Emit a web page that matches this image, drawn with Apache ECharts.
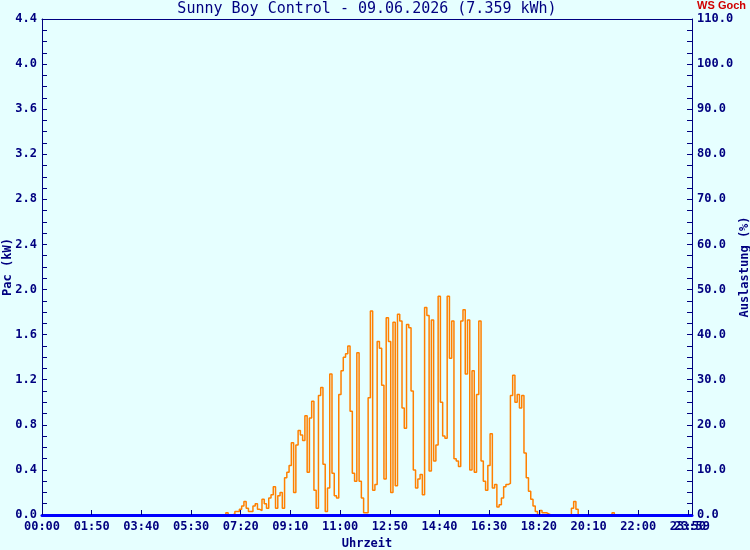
<!DOCTYPE html>
<html>
<head>
<meta charset="utf-8">
<title>Sunny Boy Control</title>
<script src="https://cdn.jsdelivr.net/npm/echarts@6/dist/echarts.min.js"></script>
<style>
  html, body { margin: 0; padding: 0; background: #E6FFFF; }
  #chart { width: 750px; height: 550px; }
</style>
</head>
<body>
<div id="chart"></div>
<script>
// Pac readings, one every 5 minutes starting at pacStart (minutes after midnight)
const pacStart = 402;
const pacStep = 5;
const pacValues = [
    0.00, 0.02, 0.00, 0.00, 0.01, 0.03, 0.03, 0.05, 0.08, 0.12,
    0.06, 0.03, 0.03, 0.08, 0.10, 0.05, 0.04, 0.14, 0.10, 0.06,
    0.15, 0.18, 0.25, 0.06, 0.17, 0.20, 0.06, 0.33, 0.38, 0.44,
    0.64, 0.20, 0.62, 0.75, 0.71, 0.66, 0.88, 0.38, 0.86, 1.01,
    0.22, 0.06, 1.06, 1.13, 0.45, 0.03, 0.24, 1.25, 0.37, 0.17,
    0.15, 1.07, 1.28, 1.40, 1.43, 1.50, 0.92, 0.37, 0.30, 1.44,
    0.30, 0.15, 0.02, 0.02, 1.04, 1.81, 0.22, 0.27, 1.54, 1.48,
    1.15, 0.32, 1.75, 1.54, 0.20, 1.71, 0.26, 1.78, 1.72, 0.95,
    0.77, 1.69, 1.66, 1.10, 0.40, 0.24, 0.32, 0.36, 0.18, 1.84,
    1.77, 0.39, 1.73, 0.48, 0.62, 1.94, 1.00, 0.70, 0.68, 1.94,
    1.39, 1.72, 0.50, 0.48, 0.43, 1.72, 1.82, 1.25, 1.73, 0.40,
    1.28, 0.38, 1.07, 1.72, 0.48, 0.30, 0.22, 0.44, 0.72, 0.24,
    0.27, 0.07, 0.09, 0.15, 0.25, 0.27, 0.28, 1.06, 1.24, 1.00,
    1.07, 0.95, 1.06, 0.55, 0.33, 0.21, 0.14, 0.08, 0.03, 0.00,
    0.04, 0.02, 0.02, 0.01, 0.00, 0.00, 0.00, 0.00, 0.00, 0.00,
    0.00, 0.00, 0.00, 0.00, 0.06, 0.12, 0.05, 0.00, 0.00, 0.00,
    0.00, 0.00, 0.00, 0.00, 0.00, 0.00, 0.00, 0.00, 0.00, 0.00,
    0.00, 0.00, 0.02, 0.00
];

// x labels every 110 minutes plus the last minute of the day
const timeTicks = [0, 110, 220, 330, 440, 550, 660, 770, 880, 990, 1100, 1210, 1320, 1430, 1439];

const titleText = 'Sunny Boy Control - 09.06.2026 (7.359 kWh)';
const stationText = 'WS Goch';

const navy = '#000080';
const mono = 'DejaVu Sans Mono';

let chart = echarts.init(document.getElementById('chart'));

function pad(n) {
    return (n < 10 ? '0' : '') + n;
}

function fmtTime(v) {
    return pad(Math.floor(v / 60)) + ':' + pad(Math.round(v) % 60);
}

let pacData = pacValues.map((v, i) => [pacStart + i * pacStep, v]);

let labelStyle = {
    color: navy,
    fontFamily: mono,
    fontWeight: 'bold',
    fontSize: 12
};

let option = {
    backgroundColor: '#E6FFFF',
    animation: false,
    title: {
        text: titleText,
        left: 362,
        textAlign: 'center',
        top: -3,
        textStyle: {
            color: navy,
            fontFamily: mono,
            fontWeight: 'normal',
            fontSize: 15
        }
    },
    graphic: [
        {
            type: 'text',
            right: 4,
            top: 0,
            style: {
                text: stationText,
                fill: '#D00000',
                font: 'bold 11px "Liberation Sans", sans-serif'
            }
        }
    ],
    grid: {
        left: 42,
        right: 58,
        top: 19,
        bottom: 35,
        outerBoundsMode: 'none',
        containLabel: false
    },
    xAxis: [
        {
            type: 'value',
            min: 0,
            max: 1439,
            z: 5,
            name: 'Uhrzeit',
            nameLocation: 'middle',
            nameGap: 22,
            nameTextStyle: labelStyle,
            axisLine: { onZero: false, lineStyle: { color: '#0000FF', width: 3 } },
            axisTick: { inside: true, length: 5, customValues: timeTicks, lineStyle: { color: navy } },
            axisLabel: Object.assign({
                margin: 6,
                hideOverlap: false,
                customValues: timeTicks.slice(0, -2).concat([1439]),
                formatter: fmtTime
            }, labelStyle),
            splitLine: { show: false }
        },
        {
            // second label row so 23:50 and 23:59 both print on top of each other
            type: 'value',
            position: 'bottom',
            min: 0,
            max: 1439,
            z: 5,
            axisLine: { show: false, onZero: false },
            axisTick: { show: false },
            axisLabel: Object.assign({
                margin: 6,
                hideOverlap: false,
                customValues: [1430],
                formatter: fmtTime
            }, labelStyle),
            splitLine: { show: false }
        },
        {
            // top frame line
            type: 'value',
            position: 'top',
            min: 0,
            max: 1439,
            z: 5,
            axisLine: { show: true, onZero: false, lineStyle: { color: navy, width: 1 } },
            axisTick: { show: false },
            axisLabel: { show: false },
            splitLine: { show: false }
        }
    ],
    yAxis: [
        {
            type: 'value',
            min: 0,
            max: 4.4,
            interval: 0.4,
            z: 4,
            name: 'Pac (kW)',
            nameLocation: 'middle',
            nameRotate: 90,
            nameGap: 28,
            nameMoveOverlap: false,
            nameTextStyle: labelStyle,
            axisLine: { show: true, onZero: false, lineStyle: { color: navy } },
            axisTick: { inside: true, length: 5, lineStyle: { color: navy } },
            minorTick: { show: true, splitNumber: 4, length: 5, lineStyle: { color: navy } },
            axisLabel: Object.assign({ margin: 5, formatter: v => v.toFixed(1) }, labelStyle),
            splitLine: { show: false }
        },
        {
            type: 'value',
            min: 0,
            max: 110,
            interval: 10,
            z: 4,
            position: 'right',
            name: 'Auslastung (%)',
            nameLocation: 'middle',
            nameRotate: 90,
            nameGap: 47,
            nameMoveOverlap: false,
            nameTextStyle: labelStyle,
            axisLine: { show: true, onZero: false, lineStyle: { color: navy } },
            axisTick: { inside: true, length: 5, lineStyle: { color: navy } },
            minorTick: { show: true, splitNumber: 4, length: 5, lineStyle: { color: navy } },
            axisLabel: Object.assign({ margin: 5, formatter: v => v.toFixed(1) }, labelStyle),
            splitLine: { show: false }
        }
    ],
    series: [
        {
            name: 'Pac',
            type: 'line',
            step: 'end',
            xAxisIndex: 0,
            yAxisIndex: 0,
            data: pacData,
            showSymbol: false,
            lineStyle: { color: '#FF8000', width: 1.5 },
            itemStyle: { color: '#FF8000' }
        }
    ]
};

chart.setOption(option);
</script>
</body>
</html>
